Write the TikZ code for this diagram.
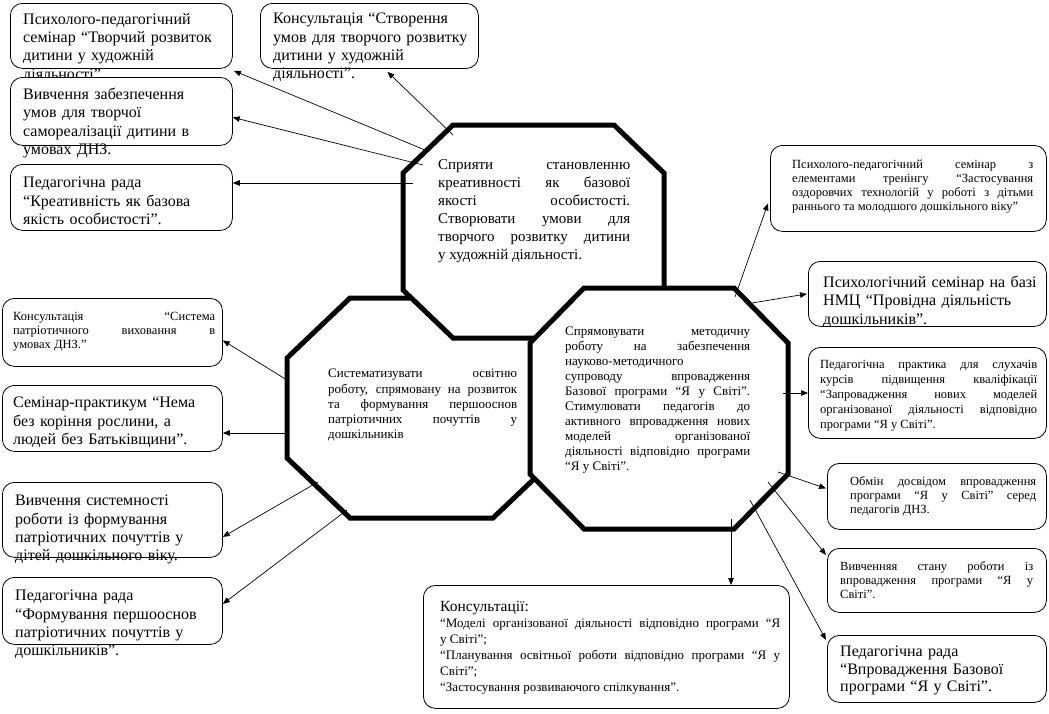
\documentclass[tikz,border=0pt]{standalone}
\usepackage{fontspec}
\setmainfont{Liberation Serif}
\usetikzlibrary{arrows.meta}
\setlength{\parindent}{0pt}
\hyphenpenalty=10000
\exhyphenpenalty=10000

\begin{document}
\begin{tikzpicture}[
    x=1pt, y=-1pt,
    box/.style={draw, fill=white, rounded corners=12pt, line width=0.8pt, anchor=north west, inner sep=0pt},
    oct/.style={draw, fill=white, line width=5pt, line join=miter},
    big/.style={anchor=north west, inner sep=0pt, align=left, font=\fontsize{16}{18.3}\selectfont},
    small/.style={anchor=north west, inner sep=0pt, align=justify, font=\fontsize{12.5}{14}\selectfont},
    goal/.style={anchor=north west, inner sep=0pt, align=justify, font=\fontsize{13}{15.2}\selectfont},
    arr/.style={-{Triangle[length=7pt,width=5.5pt]}, line width=0.7pt},
]
\useasboundingbox (0,0) rectangle (1049,713);

% boxes round the creativity goal
\node[box, minimum width=222, minimum height=65] (b1) at (10,3) {};
\node[big, text width=210] (t1) at (23,13) {Психолого-педагогічний\\семінар “Творчий розвиток\\дитини у художній\\діяльності”.};
\node[box, minimum width=218, minimum height=65] (b2) at (260,3) {};
\node[big, text width=205] (t2) at (273,13) {Консультація “Створення\\умов для творчого розвитку\\дитини у художній\\діяльності”.};
\node[box, minimum width=222, minimum height=68] (b3) at (10,77) {};
\node[big, text width=210] (t3) at (23,88) {Вивчення забезпечення\\умов для творчої\\самореалізації дитини в\\умовах ДНЗ.};
\node[box, minimum width=222, minimum height=66] (b4) at (10,164) {};
\node[big, text width=210] (t4) at (23,177) {Педагогічна рада\\“Креативність як базова\\якість особистості”.};

% boxes round the patriotic goal
\node[box, minimum width=220, minimum height=68] (b5) at (2,298) {};
\node[small, text width=202] (t5) at (13,312) {Консультація “Система\linebreak патріотичного виховання в\linebreak умовах ДНЗ.”};
\node[box, minimum width=220, minimum height=66] (b6) at (2,385) {};
\node[big, text width=205] (t6) at (13,397) {Семінар-практикум “Нема\\без коріння рослини, а\\людей без Батьківщини”.};
\node[box, minimum width=220, minimum height=75] (b7) at (2,482) {};
\node[big, text width=205] (t7) at (15,495) {Вивчення системності\\роботи із формування\\патріотичних почуттів у\\дітей дошкільного віку.};
\node[box, minimum width=220, minimum height=67] (b8) at (2,577) {};
\node[big, text width=205] (t8) at (15,590) {Педагогічна рада\\“Формування першооснов\\патріотичних почуттів у\\дошкільників”.};

% boxes round the programme goal
\node[box, minimum width=276, minimum height=86] (r1) at (770,145) {};
\node[small, text width=241] (u1) at (792,160) {Психолого-педагогічний семінар з\linebreak елементами тренінгу “Застосування\linebreak оздоровчих технологій у роботі з дітьми\linebreak раннього та молодшого дошкільного віку”};
\node[box, minimum width=238, minimum height=65] (r2) at (808,261) {};
\node[big, text width=220] (u2) at (823,276) {Психологічний семінар на базі\\НМЦ “Провідна діяльність\\дошкільників”.};
\node[box, minimum width=238, minimum height=91] (r3) at (808,347) {};
\node[small, text width=217, font=\fontsize{12.5}{15}\selectfont] (u3) at (820,360) {Педагогічна практика для слухачів\linebreak курсів підвищення кваліфікації\linebreak “Запровадження нових моделей\linebreak організованої діяльності відповідно\linebreak програми “Я у Світі”.};
\node[box, minimum width=219, minimum height=66] (r4) at (827,463) {};
\node[small, text width=186] (u4) at (850,476) {Обмін досвідом впровадження\linebreak програми “Я у Світі” серед\linebreak педагогів ДНЗ.};
\node[box, minimum width=219, minimum height=64] (r5) at (827,548) {};
\node[small, text width=193] (u5) at (840,561) {Вивченняя стану роботи із\linebreak впровадження програми “Я у\linebreak Світі”.};
\node[box, minimum width=219, minimum height=67] (r6) at (827,635) {};
\node[big, text width=200, font=\fontsize{16}{17.5}\selectfont] (u6) at (840,646) {Педагогічна рада\\“Впровадження Базової\\програми “Я у Світі”.};
\node[box, minimum width=366, minimum height=123] (cons) at (423,585) {};
\node[goal, text width=340, font=\fontsize{13}{16}\selectfont] (ct) at (440,601) {{\fontsize{15.5}{16}\selectfont Консультації:}\newline “Моделі організованої діяльності відповідно програми “Я\linebreak у Світі”;\newline “Планування освітньої роботи відповідно програми “Я у\linebreak Світі”;\newline “Застосування розвиваючого спілкування”.};

% goals
\draw[oct] (350,298) -- (493,298) -- (556,358) -- (556,458) -- (493,518) -- (350,518) -- (287,458) -- (287,358) -- cycle;
\node[goal, text width=189] (lgoal) at (328,369) {Систематизувати освітню\linebreak роботу, спрямовану на розвиток\linebreak та формування першооснов\linebreak патріотичних почуттів у\linebreak дошкільників};
\draw[oct] (453,125) -- (614,125) -- (664,173) -- (664,290) -- (614,338) -- (453,338) -- (403,290) -- (403,173) -- cycle;
\node[goal, text width=192, font=\fontsize{15}{18}\selectfont] (tgoal) at (438,159) {Сприяти становленню\linebreak креативності як базової\linebreak якості особистості.\linebreak Створювати умови для\linebreak творчого розвитку дитини\linebreak у художній діяльності.};
\draw[oct] (584,288) -- (734,288) -- (788,343) -- (788,474) -- (734,529) -- (584,529) -- (530,474) -- (530,343) -- cycle;
\node[goal, text width=185, font=\fontsize{13}{15}\selectfont] (rgoal) at (565,327) {Спрямовувати методичну\linebreak роботу на забезпечення\linebreak науково-методичного\newline супроводу впровадження\linebreak Базової програми “Я у Світі”.\linebreak Стимулювати педагогів до\linebreak активного впровадження нових\linebreak моделей організованої\linebreak діяльності відповідно програми\linebreak “Я у Світі”.};

% arrow starts
\coordinate (s1) at (425,150);
\coordinate (s2) at (453,135);
\coordinate (s3) at (423,165);
\coordinate (s4) at (413,183);
\coordinate (s5) at (287,380);
\coordinate (s6) at (287,433);
\coordinate (s7) at (318,482);
\coordinate (s8) at (347,510);
\coordinate (p1) at (735,297);
\coordinate (p2) at (752,303);
\coordinate (p3) at (783,393);
\coordinate (p4) at (778,472);
\coordinate (p5) at (768,482);
\coordinate (p6) at (750,500);
\coordinate (p7) at (731,519);

\draw[arr] (s1) -- ([shift={(1pt,-2pt)}]b1.south east);
\draw[arr] (s2) -- ([shift={(18pt,-3pt)}]b2.south);
\draw[arr] (s3) -- ([yshift=-6pt]b3.east);
\draw[arr] (s4) -- (s4 -| b4.east);
\draw[arr] (s5) -- ([yshift=-8pt]b5.east);
\draw[arr] (s6) -- (s6 -| b6.east);
\draw[arr] (s7) -- ([yshift=-17pt]b7.east);
\draw[arr] (s8) -- ([yshift=7pt]b8.east);
\draw[arr] (p1) -- ([shift={(-2pt,-15pt)}]r1.west);
\draw[arr] (p2) -- ([xshift=-1pt]r2.west);
\draw[arr] (p3) -- (p3 -| r3.west);
\draw[arr] (p4) -- ([shift={(-1pt,8pt)}]r4.west);
\draw[arr] (p5) -- ([shift={(-1pt,-7pt)}]r5.north west);
\draw[arr] (p6) -- ([shift={(-1pt,-5pt)}]r6.north west);
\draw[arr] (p7) -- (p7 |- cons.north);

\end{tikzpicture}
\end{document}
